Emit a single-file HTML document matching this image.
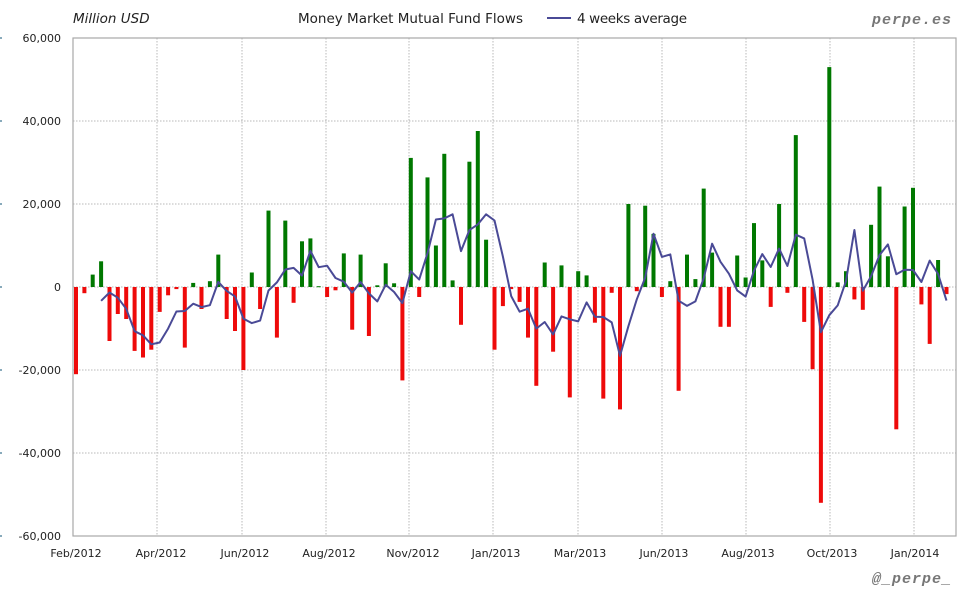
<!DOCTYPE html>
<html><head><meta charset="utf-8"><style>
body{margin:0;background:#fff;}
svg{display:block;font-family:"DejaVu Sans","Liberation Sans",sans-serif;}
</style></head><body>
<svg id="s" width="980" height="600" xmlns="http://www.w3.org/2000/svg">
<rect x="0" y="0" width="980" height="600" fill="#fff"/>
<text x="73" y="23" font-size="13.5" font-style="italic" fill="#222">Million USD</text>
<text x="298" y="23" font-size="13.5" fill="#222" textLength="225">Money Market Mutual Fund Flows</text>
<line x1="547" y1="18" x2="571" y2="18" stroke="#4a4a96" stroke-width="2"/>
<text x="577" y="23" font-size="13.5" fill="#222" textLength="110">4 weeks average</text>
<text x="952" y="24" font-size="15" font-weight="bold" font-style="italic" fill="#777" text-anchor="end" font-family="Liberation Mono,monospace" letter-spacing="1">perpe.es</text>
<text x="952" y="583" font-size="15" font-weight="bold" font-style="italic" fill="#777" text-anchor="end" font-family="Liberation Mono,monospace" letter-spacing="1">@_perpe_</text>
<g id="grid"></g>
<g id="bars"></g>
<polyline id="avg" fill="none" stroke="#4a4a96" stroke-width="2" stroke-linejoin="round"/>
<rect x="73" y="38" width="883" height="498" fill="none" stroke="#a8a8a8" stroke-width="1.2"/>
<g font-size="11" fill="#222" text-anchor="end" id="yl"></g>
<g font-size="11" fill="#222" text-anchor="middle">
<text x="76" y="557">Feb/2012</text>
<text x="161" y="557">Apr/2012</text>
<text x="245" y="557">Jun/2012</text>
<text x="329" y="557">Aug/2012</text>
<text x="413" y="557">Nov/2012</text>
<text x="496" y="557">Jan/2013</text>
<text x="580" y="557">Mar/2013</text>
<text x="664" y="557">Jun/2013</text>
<text x="748" y="557">Aug/2013</text>
<text x="832" y="557">Oct/2013</text>
<text x="915" y="557">Jan/2014</text>
</g>
</svg>
<script>
(function(){
var v=[-21000,-1500,3000,6200,-13000,-6500,-7700,-15400,-17000,-15100,-6000,-2000,-500,-14600,1000,-5300,1400,7800,-7700,-10600,-20000,3500,-5300,18400,-12200,16000,-3800,11000,11700,200,-2400,-800,8100,-10300,7800,-11800,400,5700,900,-22500,
31100,-2400,26400,10000,32100,1600,-9100,30200,37600,11400,-15100,-4600,-500,-3600,-12200,-23800,5900,-15600,5200,-26600,3800,2800,-8600,-26900,-1400,-29500,20000,-1000,19600,12800,-2400,1400,-25000,7800,
1900,23700,8300,-9600,-9600,7600,2300,15400,6400,-4800,20000,-1400,36600,-8400,-19800,-52000,53000,1100,3800,-3000,-5500,15000,24200,7400,-34300,19400,23900,-4200,-13700,6500,-1700];
var NS="http://www.w3.org/2000/svg";
function el(t,a,p){var e=document.createElementNS(NS,t);for(var k in a)e.setAttribute(k,a[k]);document.getElementById(p).appendChild(e);return e;}
var Y0=287,K=249/60000;
function yv(val){return Y0-val*K;}
var gx=[157,242,326,409,493,578,662,746,830,914];
gx.forEach(function(x){el('line',{x1:x,y1:38,x2:x,y2:536,stroke:'#b8b8b8','stroke-dasharray':'1.5,1.5'},'grid');});
for(var i=-2;i<=2;i++){var yy=yv(i*20000);el('line',{x1:73,y1:yy,x2:956,y2:yy,stroke:'#b8b8b8','stroke-dasharray':'1.5,1.5'},'grid');}
var labs=['60,000','40,000','20,000','0','-20,000','-40,000','-60,000'];
for(var j=0;j<7;j++){var py=(j==6?536:yv(60000-j*20000));var t=el('text',{x:61,y:py+4},'yl');t.textContent=labs[j];
 el('rect',{x:0,y:py-1,width:2,height:2,fill:'#8ab'},'grid');}
var pts=[];
for(var n=0;n<v.length;n++){var bx=76+n*8.37;var val=v[n];
 var by=val>=0?yv(val):Y0,bh=Math.abs(val)*K;
 el('rect',{x:(bx-2).toFixed(1),y:by.toFixed(1),width:4,height:Math.max(bh,1).toFixed(1),fill:val>=0?'#007800':'#ee0a0a'},'bars');
 if(n>=3){var a=(v[n]+v[n-1]+v[n-2]+v[n-3])/4;pts.push(bx.toFixed(1)+','+yv(a).toFixed(1));}
}
document.getElementById('avg').setAttribute('points',pts.join(' '));
})();
</script>
</body></html>
